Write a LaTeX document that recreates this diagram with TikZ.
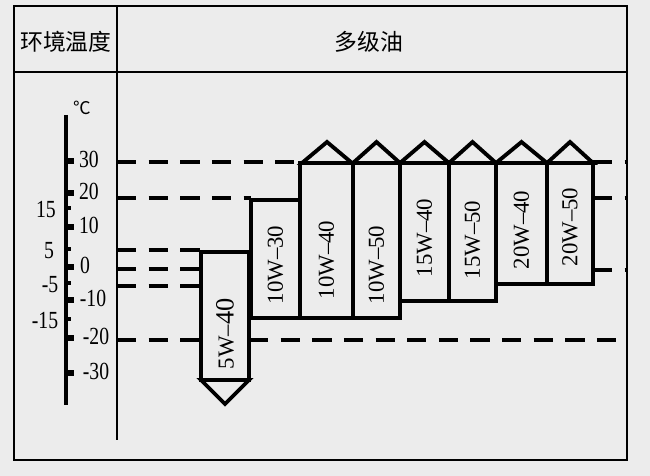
\documentclass[tikz,border=0pt]{standalone}
\usepackage{fontspec}
\setmainfont{Liberation Serif}
\newfontfamily\cjk{Noto Sans CJK SC}
\definecolor{paper}{RGB}{236,236,236}
\begin{document}
\begin{tikzpicture}[x=0.02cm, y=-0.02cm,
		frame/.style={line width=0.9pt},
		oilbar/.style={line width=2.2pt, line join=miter},
		limit/.style={line width=2.2pt, dash pattern=on 11pt off 7pt},
		oillabel/.style={rotate=90, font=\fontsize{13}{15}\selectfont, inner sep=0pt},
		degree/.style={font=\fontsize{14}{16}\selectfont, xscale=0.8, inner sep=0pt}]
			\fill[paper] (0, 0) rectangle (650, 476);
			\useasboundingbox (0, 0) rectangle (650, 476);
			% table
			\draw[frame] (14, 6) rectangle (627, 460);
			\draw[frame] (14, 72) -- (627, 72);
			\draw[frame] (117, 6) -- (117, 440);
			\node[font=\cjk\fontsize{13}{15}\selectfont] (hdrtemp) at (66, 42) {环境温度};
			\node[font=\cjk\fontsize{13}{15}\selectfont] (hdroil) at (369, 42) {多级油};
			% temperature scale
			\node[font=\cjk\fontsize{10}{12}\selectfont, inner sep=0pt] (unit) at (82, 108) {℃};
			\coordinate (axtop) at (66, 115);
			\coordinate (axbot) at (66, 405);
			\draw[line width=2.4pt] (axtop) -- (axbot);
			\foreach \y/\t/\x in {161/30/89, 193/20/89, 227/10/89, 267/0/85, 300/-10/93, 338/-20/96, 373/-30/96}
			{
				\draw[line width=3pt] (66, \y) -- + (8, 0);
				\node[degree] (deg\t) at (\x, \y - 2) {\t};
			}
			\foreach \y/\t/\x in {208/15/46, 249/5/49, 283/-5/50, 319/-15/45}
			{
				\draw[line width=2pt] (66, \y) -- + (5, 0);
				\node[degree] (deg\t) at (\x, \y + 2) {\t};
			}
			% limit lines
			\draw[limit] (117, 162) -- (302, 162);
			\draw[limit] (593, 162) -- (627, 162);
			\draw[limit] (117, 198) -- (251, 198);
			\draw[limit] (593, 198) -- (627, 198);
			\draw[limit] (117, 250) -- (201, 250);
			\draw[limit] (117, 269) -- (201, 269);
			\draw[limit] (117, 286) -- (201, 286);
			\draw[limit] (593, 270) -- (627, 270);
			\draw[limit] (117, 340) -- (201, 340);
			\draw[limit] (249, 340) -- (627, 340);
			% oil grades
			\foreach \l/\r/\t/\b/\m/\n/\g in {251/300/200/318/265/a/10W--30, 300/353/163/318/260/b/10W--40, 353/400/163/318/265/c/10W--50, 400/449/163/301/238/d/15W--40, 449/496/163/301/240/e/15W--50, 496/547/163/284/230/f/20W--40, 547/593/163/284/227/g/20W--50}
			{
				\draw[oilbar, fill=paper] (\l, \t) rectangle (\r, \b);
				\node[oillabel] (grade\n) at ({(\l + \r) / 2}, \m) {\g};
			}
			\foreach \l/\r in {302/352, 353/400, 400/449, 449/496, 496/547, 547/593}
			\draw[oilbar] (\l, 163) -- ({(\l + \r) / 2}, 142) -- (\r, 163) -- cycle;
			\draw[oilbar, fill=paper] (201, 252) rectangle (249, 380);
			\node[oillabel] (gradez) at (225, 334) {5W--\fontsize{15}{15}\selectfont 40};
			\draw[oilbar] (201, 380) -- (225, 404) -- (249, 380) -- cycle;
\end{tikzpicture}
\end{document}
